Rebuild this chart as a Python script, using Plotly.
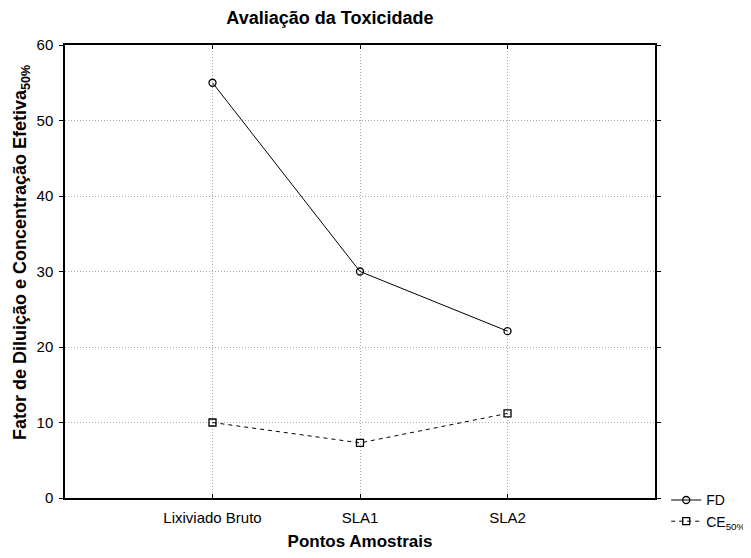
import plotly.graph_objects as go

categories = ["Lixiviado Bruto", "SLA1", "SLA2"]
fd_values = [55.0, 30.0, 22.1]
ce50_values = [10.0, 7.3, 11.2]
y_ticks = [0, 10, 20, 30, 40, 50, 60]

x_pos = list(range(len(categories)))

fig = go.Figure()
fig.add_trace(go.Scatter(
    x=x_pos, y=fd_values, name="FD", mode="lines+markers",
    line=dict(color="black", width=1),
    marker=dict(symbol="circle-open", size=7, color="black", line=dict(width=1.3)),
))
fig.add_trace(go.Scatter(
    x=x_pos, y=ce50_values, name="CE<sub>50%</sub>", mode="lines+markers",
    line=dict(color="black", width=1, dash="4px,4px"),
    marker=dict(symbol="square-open", size=7, color="black", line=dict(width=1.3)),
))

font = "Liberation Sans, Arial, sans-serif"
fig.update_layout(
    width=751, height=558,
    margin=dict(l=57, r=104, t=37, b=68, autoexpand=False),
    paper_bgcolor="white", plot_bgcolor="white",
    font=dict(family=font, size=14, color="black"),
    title=dict(text="<b>Avaliação da Toxicidade</b>", x=0.449, xref="paper", xanchor="center",
               y=1 - 10 / 558, yref="container", yanchor="middle", font=dict(size=18)),
    showlegend=True,
    legend=dict(x=1.019, xanchor="left", y=0.03, yanchor="top", bgcolor="rgba(0,0,0,0)",
                font=dict(size=14), tracegroupgap=0, itemwidth=30),
    xaxis=dict(
        range=[-1, 3], tickvals=x_pos, ticktext=categories, automargin=False,
        showline=True, mirror="ticks", linecolor="black", linewidth=1.5,
        ticks="inside", ticklen=4, tickcolor="black",
        showgrid=True, gridcolor="#aaaaaa", griddash="1px,2px", gridwidth=1,
        zeroline=False, tickfont=dict(size=15), ticklabelstandoff=5,
        title=dict(text="<b>Pontos Amostrais</b>", font=dict(size=17), standoff=10),
    ),
    yaxis=dict(
        range=[0, 60], tickvals=y_ticks, automargin=False,
        showline=True, mirror="ticks", linecolor="black", linewidth=1.5,
        ticks="outside", ticklen=4, tickcolor="black",
        showgrid=True, gridcolor="#aaaaaa", griddash="1px,2px", gridwidth=1,
        zeroline=False, tickfont=dict(size=15), ticklabelstandoff=3,
    ),
    annotations=[dict(
        text="<b>Fator de Diluição e Concentração Efetiva<sub>50%</sub></b>",
        textangle=-90, xref="paper", yref="paper", x=-0.0746, y=0.543,
        xanchor="center", yanchor="middle", showarrow=False, font=dict(size=18),
    )],
)

fig.write_html("out.html")
